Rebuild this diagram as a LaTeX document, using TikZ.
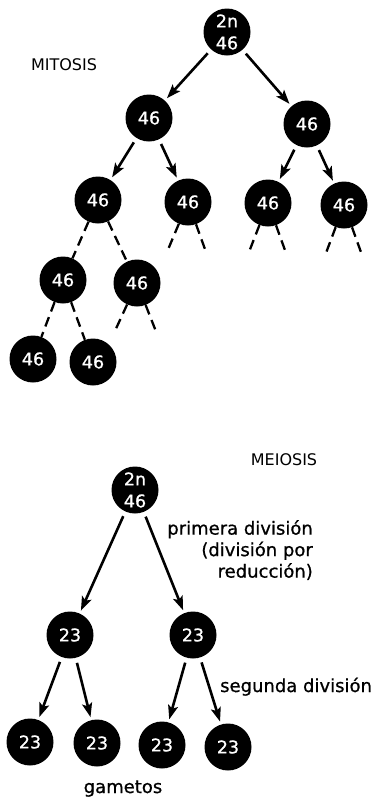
\documentclass[tikz,border=0pt]{standalone}
\usepackage{fontspec}
\setmainfont{DejaVu Sans}
\newfontfamily\headfont{DejaVu Sans}
\newfontfamily\labelfont[FakeBold=0.8]{DejaVu Sans}
\usetikzlibrary{arrows.meta}
\tikzset{
  cell/.style={circle, fill=black, minimum size=47pt, inner sep=0pt,
    text=white, font=\labelfont\fontsize{17.5}{22}\selectfont, align=center},
  divarrow/.style={line width=2.6pt,
    -{Stealth[length=14pt,width=10pt,inset=3pt]},
    shorten <=5pt, shorten >=3pt},
  lineage/.style={line width=2.3pt, dash pattern=on 10pt off 6pt},
  heading/.style={font=\headfont\fontsize{16}{20}\selectfont},
  caption/.style={font=\labelfont\fontsize{18}{21.5}\selectfont}
}
\begin{document}
\begin{tikzpicture}[x=1pt, y=-1pt]
\useasboundingbox (0,0) rectangle (376,812);

% ---------------- mitosis ----------------
\node[heading, anchor=base] (mitlabel) at (64,70) {MITOSIS};

\node[cell] (m0) at (227,32) {2n\\46};
\node[cell] (m1a) at (149,118) {46};
\node[cell] (m1b) at (307,124) {46};
\node[cell] (m2a) at (98,200) {46};
\node[cell] (m2b) at (188,202) {46};
\node[cell] (m2c) at (268,203) {46};
\node[cell] (m2d) at (344,205) {46};
\node[cell] (m3a) at (63,280) {46};
\node[cell] (m3b) at (137,283) {46};
\node[cell] (m4a) at (33,359) {46};
\node[cell] (m4b) at (93,362) {46};

\draw[divarrow] (m0) -- (m1a);
\draw[divarrow] (m0) -- (m1b);
\draw[divarrow] (m1a) -- (m2a);
\draw[divarrow] (m1a) -- (m2b);
\draw[divarrow] (m1b) -- (m2c);
\draw[divarrow] (m1b) -- (m2d);

% later generations continue with dashed lines
\coordinate (b1) at (167,252);
\coordinate (b2) at (206,252);
\coordinate (c1) at (249,252);
\coordinate (c2) at (286,253);
\coordinate (d1) at (326,253);
\coordinate (d2) at (362,255);
\coordinate (e1) at (114,333);
\coordinate (e2) at (157,334);

\draw[lineage] (m2a) -- (m3a);
\draw[lineage] (m2a) -- (m3b);
\draw[lineage] (m2b) -- (b1);
\draw[lineage] (m2b) -- (b2);
\draw[lineage] (m2c) -- (c1);
\draw[lineage] (m2c) -- (c2);
\draw[lineage] (m2d) -- (d1);
\draw[lineage] (m2d) -- (d2);
\draw[lineage] (m3a) -- (m4a);
\draw[lineage] (m3a) -- (m4b);
\draw[lineage] (m3b) -- (e1);
\draw[lineage] (m3b) -- (e2);

% ---------------- meiosis ----------------
\node[heading, anchor=base] (meilabel) at (284,465) {MEIOSIS};

\node[cell] (s0) at (135,490) {2n\\46};
\node[cell] (s1a) at (70,635) {23};
\node[cell] (s1b) at (193,635) {23};
\node[cell] (g1) at (30,742) {23};
\node[cell] (g2) at (97,743) {23};
\node[cell] (g3) at (162,745) {23};
\node[cell] (g4) at (228,747) {23};

\draw[divarrow] (s0) -- (s1a);
\draw[divarrow] (s0) -- (s1b);
\draw[divarrow] (s1a) -- (g1);
\draw[divarrow] (s1a) -- (g2);
\draw[divarrow] (s1b) -- (g3);
\draw[divarrow] (s1b) -- (g4);

\node[caption, anchor=north east, align=right, inner sep=0pt] (first) at (313,520)
  {primera división\\(división por\\reducción)};
\node[caption, anchor=base west, inner sep=0pt] (second) at (220,692) {segunda división};
\node[caption, anchor=base, inner sep=0pt] (gam) at (123,793) {gametos};
\end{tikzpicture}
\end{document}
